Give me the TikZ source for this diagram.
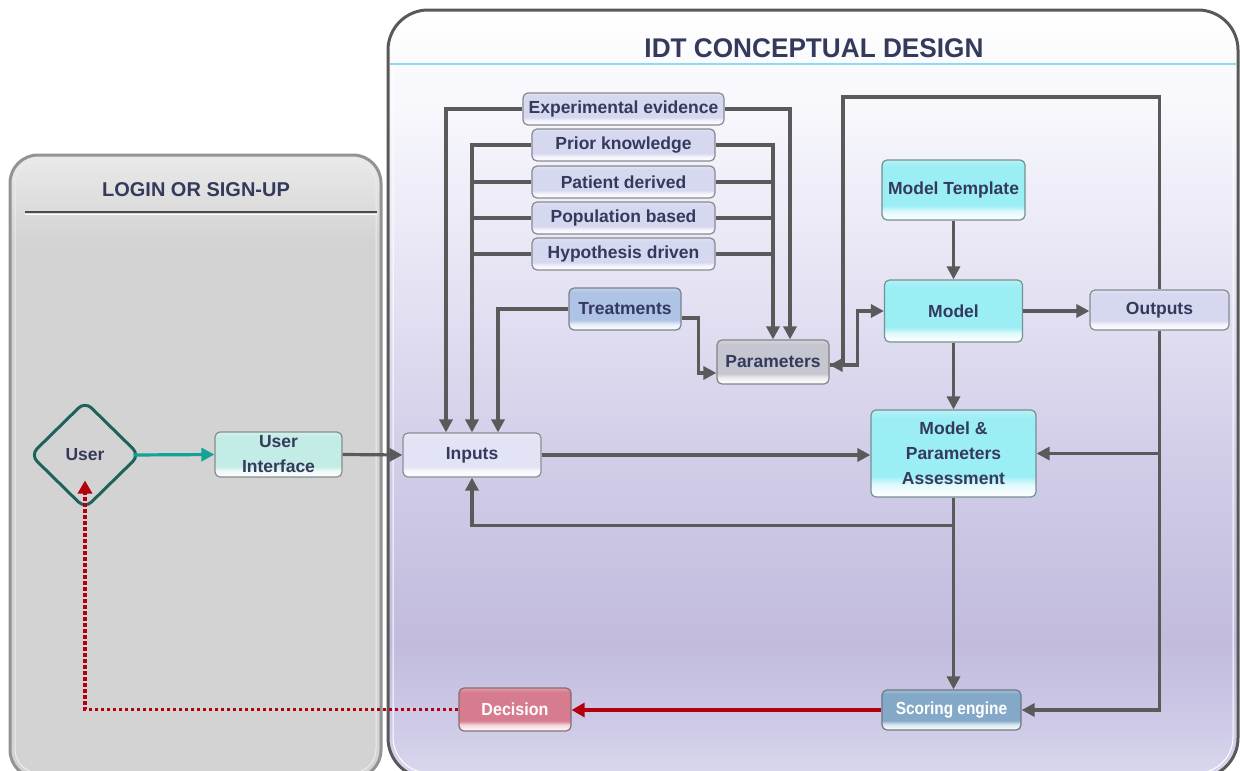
\documentclass[tikz,border=0pt]{standalone}
\usepackage{fontspec}
\usepackage{graphicx}
\setmainfont{Liberation Sans}
\usetikzlibrary{arrows.meta,shapes.geometric,calc}

% palette
\definecolor{txt}{HTML}{343A5C}
\definecolor{lav}{HTML}{D6D8F0}
\definecolor{lavlight}{HTML}{E2E4F6}
\definecolor{cyanbox}{HTML}{9CEEF5}
\definecolor{uibox}{HTML}{C4ECE6}
\definecolor{treatbox}{HTML}{AEC3E6}
\definecolor{parbox}{HTML}{C6C6D0}
\definecolor{decbox}{HTML}{D67C8E}
\definecolor{scorebox}{HTML}{84A8C8}
\definecolor{linegray}{HTML}{5A5A5A}
\definecolor{arrowred}{HTML}{B3000F}
\definecolor{tealarrow}{HTML}{12A396}
\definecolor{userline}{HTML}{1F625C}
\definecolor{bgA}{HTML}{DAD8EE}
\definecolor{bgB}{HTML}{CDC9E6}
\definecolor{bgC}{HTML}{C2BBDD}
\definecolor{bgD}{HTML}{D2CEE9}
\definecolor{bgE}{HTML}{E3E1F2}
\definecolor{bgF}{HTML}{F6F6FC}
\definecolor{lgA}{HTML}{D3D3D3}
\definecolor{lgB}{HTML}{EAEAEA}

% background of the design panel
\pgfdeclareverticalshading{idtbg}{100bp}{color(0bp)=(bgA); color(25bp)=(bgA);
  color(28.7bp)=(bgB); color(33.9bp)=(bgC); color(46.3bp)=(bgD);
  color(56.1bp)=(bgE); color(67.8bp)=(bgF); color(75bp)=(white); color(100bp)=(white)}
% background of the login panel
\pgfdeclareverticalshading{loginbg}{100bp}{color(0bp)=(lgA); color(25bp)=(lgA);
  color(68bp)=(lgA); color(75bp)=(lgB); color(100bp)=(lgB)}
% bevelled box fill, driven by the colour bvbase
\colorlet{bvbase}{white}
\pgfdeclareverticalshading[bvbase]{bevel}{100bp}{color(0bp)=(white); color(25bp)=(white);
  color(32bp)=(white!70!bvbase); color(37bp)=(bvbase); color(70bp)=(bvbase);
  color(75bp)=(bvbase!75!white); color(100bp)=(bvbase!75!white)}

\tikzset{
  bx/.style={/utils/exec={\colorlet{bvbase}{#1}}, shade, shading=bevel,
    draw=#1!45!black!75, line width=1.2pt, rounded corners=5pt, text=txt,
    font=\bfseries\fontsize{17.5}{25}\selectfont, align=center, inner sep=2pt},
  flow/.style={draw=linegray, line width=3.2pt, -{Triangle[length=13pt,width=13pt]}},
  joinline/.style={draw=linegray, line width=3.2pt},
  redflow/.style={draw=arrowred, line width=3.8pt, -{Triangle[length=13pt,width=14pt]}},
  dotflow/.style={draw=arrowred, line width=3.8pt, dash pattern=on 3.5pt off 2.5pt,
    -{Triangle[length=13pt,width=14pt]}},
  tealflow/.style={draw=tealarrow, line width=3.2pt, -{Triangle[length=13pt,width=13pt]}},
  paneltitle/.style={text=txt, font=\bfseries\fontsize{20}{22}\selectfont},
}

\begin{document}
\begin{tikzpicture}[x=1pt,y=-1pt]
\useasboundingbox (0,0) rectangle (1240,771);
\clip (0,0) rectangle (1240,771);

% ---------- panels ----------
\draw[line width=3pt, draw=gray!85, rounded corners=28pt, shade, shading=loginbg]
  (10,155) rectangle (381,778);
\draw[white!85!gray, line width=1pt, rounded corners=24pt] (15,160) rectangle (376,773);
\node[paneltitle] (logintitle) at (196,190) {LOGIN OR SIGN-UP};
\draw[gray!60!black, line width=1.5pt] (25,212) -- (377,212);
\draw[white, line width=1pt] (25,214) -- (377,214);

\draw[line width=3pt, draw=gray!70!black, rounded corners=40pt, shade, shading=idtbg]
  (388,10) rectangle (1238,778);
\draw[white, line width=1pt, rounded corners=36pt] (393,15) rectangle (1233,773);
\node[text=txt, font=\bfseries\fontsize{27}{30}\selectfont] (idttitle) at (814,48)
  {\scalebox{0.97}[1]{IDT CONCEPTUAL DESIGN}};
\draw[cyan!45, line width=1.5pt] (390,64) -- (1236,64);

% ---------- nodes ----------
\node[bx=lav, minimum width=201pt, minimum height=32pt] (exp) at (623.5,109) {Experimental evidence};
\node[bx=lav, minimum width=183pt, minimum height=32pt] (prior) at (623.5,145) {Prior knowledge};
\node[bx=lav, minimum width=183pt, minimum height=32pt] (patient) at (623.5,182) {Patient derived};
\node[bx=lav, minimum width=183pt, minimum height=32pt] (pop) at (623.5,218) {Population based};
\node[bx=lav, minimum width=183pt, minimum height=32pt] (hyp) at (623.5,254) {Hypothesis driven};
\node[bx=treatbox, minimum width=112pt, minimum height=42pt] (treat) at (625,309) {Treatments};
\node[bx=parbox, minimum width=112pt, minimum height=44pt] (params) at (773,362) {Parameters};
\node[bx=cyanbox, minimum width=143pt, minimum height=60pt] (mtemplate) at (953.5,190) {Model Template};
\node[bx=cyanbox, minimum width=138pt, minimum height=62pt] (model) at (953.5,311) {Model};
\node[bx=lav, minimum width=139pt, minimum height=40pt] (outputs) at (1159.5,310) {Outputs};
\node[bx=cyanbox, minimum width=165pt, minimum height=87pt] (mpa) at (953.5,453.5)
  {Model \&\\Parameters\\Assessment};
\node[bx=lavlight, minimum width=138pt, minimum height=44pt] (inputs) at (472,455) {Inputs};
\node[bx=uibox, minimum width=127pt, minimum height=45pt] (ui) at (278.5,454.5) {User\\Interface};
\node[bx=scorebox, text=white, minimum width=139pt, minimum height=40pt] (scoring) at (951.5,710)
  {\scalebox{0.88}[1]{Scoring engine}};
\node[bx=decbox, text=white, minimum width=112pt, minimum height=43pt] (decision) at (515,709.5)
  {\scalebox{0.92}[1]{Decision}};
\node[diamond, draw=userline, line width=3pt, rounded corners=9pt, minimum width=110pt,
  minimum height=108pt, inner sep=0pt, text=txt, font=\bfseries\fontsize{17.5}{20}\selectfont]
  (user) at (85,455) {User};

% ---------- connectors ----------
\draw[flow] (exp.west) -| ([xshift=-26pt]inputs.north);
\draw[flow] (prior.west) -| (inputs.north);
\foreach \n in {patient,pop,hyp} \draw[joinline] (\n.west) -- (\n.west -| inputs.north);
\draw[flow] (exp.east) -| ([xshift=17pt]params.north);
\draw[flow] (prior.east) -| (params.north);
\foreach \n in {patient,pop,hyp} \draw[joinline] (\n.east) -- (\n.east -| params.north);
\draw[flow] (treat.west) -| ([xshift=26pt]inputs.north);
\draw[flow] ([yshift=-9pt]treat.east) -- ++(17pt,0pt) |- ([yshift=-11pt]params.west);

\draw[flow] ([yshift=-3pt]params.east) -- ++(28pt,0pt) |- (model.west);
\coordinate (loopcorner) at (843,97);
\draw[flow] (outputs.north) |- (loopcorner) |- ([yshift=-3pt]params.east);

\draw[flow] (mtemplate) -- (model);
\draw[flow] (model.east) -- (outputs.west |- model.east);
\draw[flow] (model) -- (mpa);
\draw[flow] (inputs.east) -- (mpa.west |- inputs.east);
\draw[flow] (mpa.south) -- ++(0pt,-28pt) -| (inputs.south);
\draw[flow] (mpa.south) -- (mpa.south |- scoring.north);
\draw[flow] (outputs.south) |- (scoring.east);
\draw[flow] (outputs.south |- mpa.east) -- (mpa.east);

\draw[redflow] (scoring.west) -- (decision.east |- scoring.west);
\draw[dotflow] (decision.west) -| ([yshift=30pt]user.south);
\draw[tealflow] ([xshift=-8pt]user.east) -- (ui.west);
\draw[flow] (ui.east) -- (inputs.west);
\end{tikzpicture}
\end{document}
